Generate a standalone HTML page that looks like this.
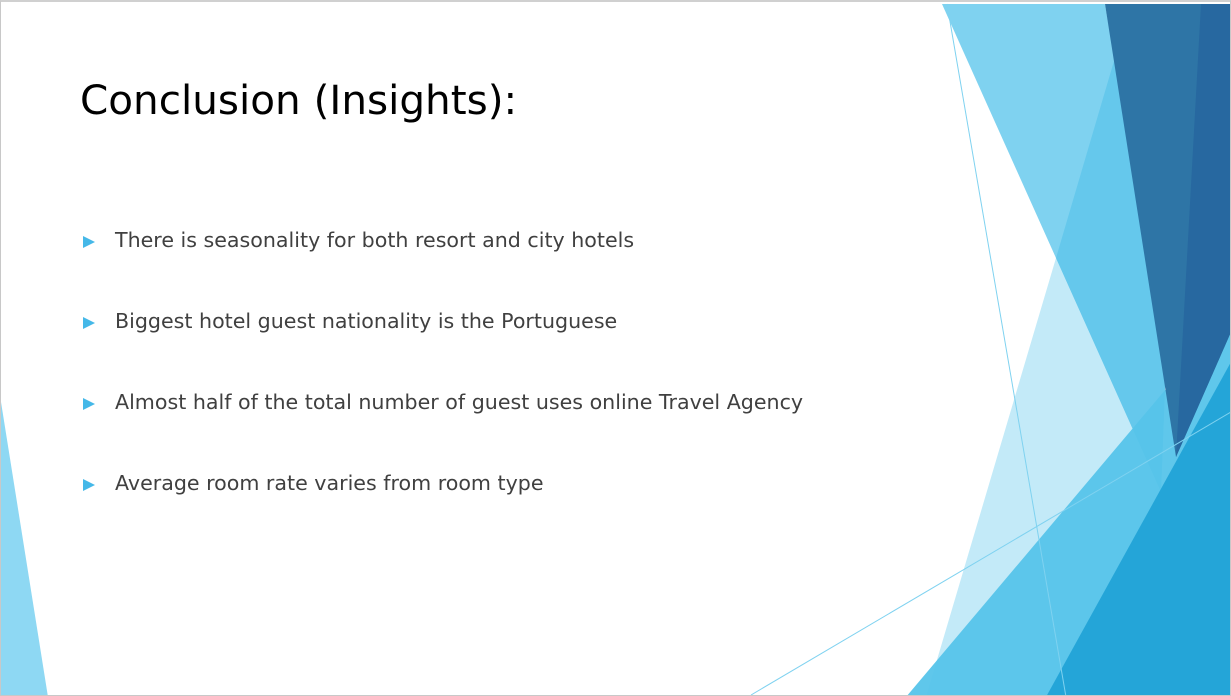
<!DOCTYPE html>
<html><head><meta charset="utf-8">
<style>
html,body{margin:0;padding:0;width:1231px;height:695px;overflow:hidden;background:#fff;}
#slide{position:absolute;left:0;top:0;width:1229px;height:693px;border:1px solid #c8c8c8;border-top:2px solid #d0d0d0;background:#fff;overflow:hidden;}
svg{position:absolute;left:0;top:0;}
h1{position:absolute;left:79px;top:74px;margin:0;font:40.5px "DejaVu Sans","Liberation Sans",sans-serif;color:#000;font-weight:normal;}
.b{position:absolute;left:114px;font:20.6px "DejaVu Sans","Liberation Sans",sans-serif;color:#404040;white-space:nowrap;}
.t{position:absolute;left:82px;width:0;height:0;border-top:6px solid transparent;border-bottom:6px solid transparent;border-left:12px solid #45b8e8;}
</style></head><body>
<div id="slide">
<svg width="1231" height="695">
<polygon points="0,400 0,695 47,695" fill="#8ed8f3"/>
<polygon points="1055,256 1160,490 1200,695 925,695" fill="#c3eaf8"/>
<polygon points="941,2 1104,2 1165,360 1160,490" fill="#7fd2f0"/>
<polygon points="1118,42 1165,360 1160,490 1055,256" fill="#65c8ec"/>
<polygon points="905,695 1230,310 1230,695" fill="#56c4ea" opacity="0.95"/>
<polygon points="1104,2 1230,2 1230,330 1175,455" fill="#2e75a6"/>
<polygon points="1200,2 1230,2 1230,330 1175,455" fill="#2768a0"/>
<polygon points="1045,695 1230,360 1230,695" fill="#1fa2d6" opacity="0.92"/>
<line x1="946" y1="2" x2="1065" y2="695" stroke="#7fd2f0" stroke-width="1"/>
<line x1="750" y1="693" x2="1230" y2="410" stroke="#7fd2f0" stroke-width="1"/>
</svg>
<h1>Conclusion (Insights):</h1>
<div class="t" style="top:234px"></div>
<div class="b" style="top:226px">There is seasonality for both resort and city hotels</div>
<div class="t" style="top:315px"></div>
<div class="b" style="top:307px">Biggest hotel guest nationality is the Portuguese</div>
<div class="t" style="top:396px"></div>
<div class="b" style="top:388px">Almost half of the total number of guest uses online Travel Agency</div>
<div class="t" style="top:477px"></div>
<div class="b" style="top:469px">Average room rate varies from room type</div>
</div>
</body></html>
